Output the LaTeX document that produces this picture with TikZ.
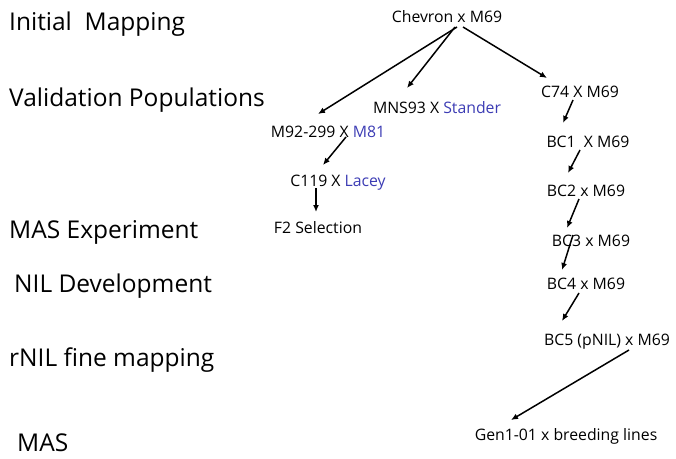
\documentclass[tikz,border=0pt]{standalone}
\usepackage{fontspec}
\setmainfont{Open Sans}
\usepackage{xcolor}
\usepackage{tikz}
\usetikzlibrary{arrows.meta, calc}
\definecolor{crossblue}{HTML}{3C3CB4}

\begin{document}
\begin{tikzpicture}[x=1pt, y=-1pt,
    stage/.style={anchor=base west, inner sep=0pt, font=\fontsize{24.5}{28}\selectfont},
    cross/.style={anchor=base, inner sep=0pt, font=\fontsize{15.8}{18}\selectfont},
    arr/.style={-{Latex[length=7pt, width=6pt]}, line width=1.5pt}]
  \useasboundingbox (0,0) rectangle (676,458);

  % stages on the left
  \node[stage] (initial) at (9,30) {Initial\ \ Mapping};
  \node[stage] (valid)   at (9,106) {Validation Populations};
  \node[stage] (masexp)  at (9,238) {MAS Experiment};
  \node[stage] (nildev)  at (14,292) {NIL Development};
  \node[stage] (rnil)    at (9,366) {rNIL fine mapping};
  \node[stage] (mas)     at (17,451) {MAS};

  % crosses
  \node[cross] (chevron) at (447,22) {Chevron x M69};
  \node[cross] (mns)     at (437,113) {MNS93 X \textcolor{crossblue}{Stander}};
  \node[cross] (m92)     at (328,137) {M92-299 X \textcolor{crossblue}{M81}};
  \node[cross] (c119)    at (338,186) {C119 X \textcolor{crossblue}{Lacey}};
  \node[cross] (f2sel)   at (318,233) {F2 Selection};
  \node[cross] (c74)     at (580,97) {C74 X M69};
  \node[cross] (bc1)     at (588,147) {BC1\ \ X M69};
  \node[cross] (bc2)     at (586,196) {BC2 x M69};
  \node[cross] (bc3)     at (591,246) {BC3 x M69};
  \node[cross] (bc4)     at (586,289) {BC4 x M69};
  \node[cross] (bc5)     at (607,345) {BC5 (pNIL) x M69};
  \node[cross] (gen)     at (566,440) {Gen1-01 x breeding lines};

  % arrows
  \draw[arr] ([shift={(10,5)}]chevron.base) -- ([shift={(-10,-23)}]m92.base);
  \draw[arr] ([shift={(8,5)}]chevron.base) -- ([shift={(-30,-25)}]mns.base);
  \draw[arr] ([shift={(16,5)}]chevron.base) -- ([shift={(-33,-19)}]c74.base);
  \draw[arr] ([shift={(18,0)}]m92.base) -- ([shift={(-15,-21)}]c119.base);
  \draw[arr] ([shift={(-22,2)}]c119.base) -- ([shift={(-2,-21)}]f2sel.base);
  \draw[arr] ([shift={(-7,3)}]c74.base) -- ([shift={(-25,-24)}]bc1.base);
  \draw[arr] ([shift={(-8,3)}]bc1.base) -- ([shift={(-18,-23)}]bc2.base);
  \draw[arr] ([shift={(-7,3)}]bc2.base) -- ([shift={(-24,-18)}]bc3.base);
  \draw[arr] ([shift={(-18,-11)}]bc3.base) -- ([shift={(-24,-19)}]bc4.base);
  \draw[arr] ([shift={(-7,4)}]bc4.base) -- ([shift={(-45,-24)}]bc5.base);
  \draw[arr] ([shift={(22,5)}]bc5.base) -- ([shift={(-55,-20)}]gen.base);
\end{tikzpicture}
\end{document}
